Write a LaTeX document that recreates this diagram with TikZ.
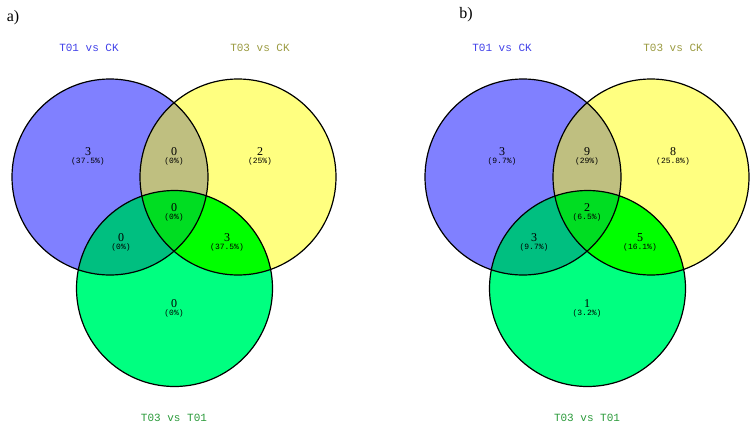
\documentclass[tikz,border=0pt]{standalone}
\usepackage{fontspec}
\setmainfont{Liberation Serif}
\setmonofont{Liberation Mono}
\usepackage{tikz}
\usetikzlibrary{positioning}

\definecolor{setA}{HTML}{8080FF}
\definecolor{setB}{HTML}{FFFF80}
\definecolor{setC}{HTML}{00FF80}
\definecolor{setAB}{HTML}{BFBF80}
\definecolor{setAC}{HTML}{00BF80}
\definecolor{setBC}{HTML}{00FF00}
\definecolor{setABC}{HTML}{00DD22}
\definecolor{titleA}{HTML}{4040E8}
\definecolor{titleB}{HTML}{9A9A40}
\definecolor{titleC}{HTML}{2A9A3A}

\begin{document}
\begin{tikzpicture}[x=1pt, y=-1pt,
  rim/.style={line width=1.2pt, black},
  settitle/.style={font=\ttfamily\fontsize{11}{11}\selectfont, inner sep=0pt},
  count/.style={font=\fontsize{12}{12}\selectfont, inner sep=0pt},
  pct/.style={font=\ttfamily\fontsize{8}{8}\selectfont, inner sep=0pt},
  panel/.style={font=\fontsize{16}{16}\selectfont, inner sep=0pt}]
  \useasboundingbox (0,0) rectangle (755,429);

  % circles of both panels
  \foreach \p/\dx in {a/0, b/413} {
    \begin{scope}[xshift=\dx pt]
      \coordinate (\p A) at (110,177);
      \coordinate (\p B) at (238,177);
      \coordinate (\p C) at (174.5,288.5);
      \fill[setA] (\p A) circle (98pt);
      \fill[setB] (\p B) circle (98pt);
      \fill[setC] (\p C) circle (98pt);
      \begin{scope}
        \clip (\p A) circle (98pt);
        \fill[setAB] (\p B) circle (98pt);
        \fill[setAC] (\p C) circle (98pt);
      \end{scope}
      \begin{scope}
        \clip (\p B) circle (98pt);
        \fill[setBC] (\p C) circle (98pt);
      \end{scope}
      \begin{scope}
        \clip (\p A) circle (98pt);
        \clip (\p B) circle (98pt);
        \fill[setABC] (\p C) circle (98pt);
      \end{scope}
      \draw[rim] (\p A) circle (98pt);
      \draw[rim] (\p B) circle (98pt);
      \draw[rim] (\p C) circle (98pt);
      % set titles
      \node[settitle, titleA] (\p tA) at (89,48) {T01 vs CK};
      \node[settitle, titleB] (\p tB) at (260,48) {T03 vs CK};
      \node[settitle, titleC] (\p tC) at (174,418) {T03 vs T01};
    \end{scope}
  }

  % panel labels
  \node[panel] (la) at (13,18) {a)};
  \node[panel] (lb) at (466,15) {b)};

  % counts, panel a
  \node[count] (a1) at (88,152) {3};
  \node[pct, below=1.5pt of a1] (a1p) {(37.5\%)};
  \node[count] (a2) at (174,152) {0};
  \node[pct, below=1.5pt of a2] (a2p) {(0\%)};
  \node[count] (a3) at (260,152) {2};
  \node[pct, below=1.5pt of a3] (a3p) {(25\%)};
  \node[count] (a4) at (174,208) {0};
  \node[pct, below=1.5pt of a4] (a4p) {(0\%)};
  \node[count] (a5) at (121,238) {0};
  \node[pct, below=1.5pt of a5] (a5p) {(0\%)};
  \node[count] (a6) at (227,238) {3};
  \node[pct, below=1.5pt of a6] (a6p) {(37.5\%)};
  \node[count] (a7) at (174,304) {0};
  \node[pct, below=1.5pt of a7] (a7p) {(0\%)};

  % counts, panel b
  \node[count] (b1) at (502,152) {3};
  \node[pct, below=1.5pt of b1] (b1p) {(9.7\%)};
  \node[count] (b2) at (587,152) {9};
  \node[pct, below=1.5pt of b2] (b2p) {(29\%)};
  \node[count] (b3) at (673,152) {8};
  \node[pct, below=1.5pt of b3] (b3p) {(25.8\%)};
  \node[count] (b4) at (587,208) {2};
  \node[pct, below=1.5pt of b4] (b4p) {(6.5\%)};
  \node[count] (b5) at (534,238) {3};
  \node[pct, below=1.5pt of b5] (b5p) {(9.7\%)};
  \node[count] (b6) at (640,238) {5};
  \node[pct, below=1.5pt of b6] (b6p) {(16.1\%)};
  \node[count] (b7) at (587,304) {1};
  \node[pct, below=1.5pt of b7] (b7p) {(3.2\%)};
\end{tikzpicture}
\end{document}
